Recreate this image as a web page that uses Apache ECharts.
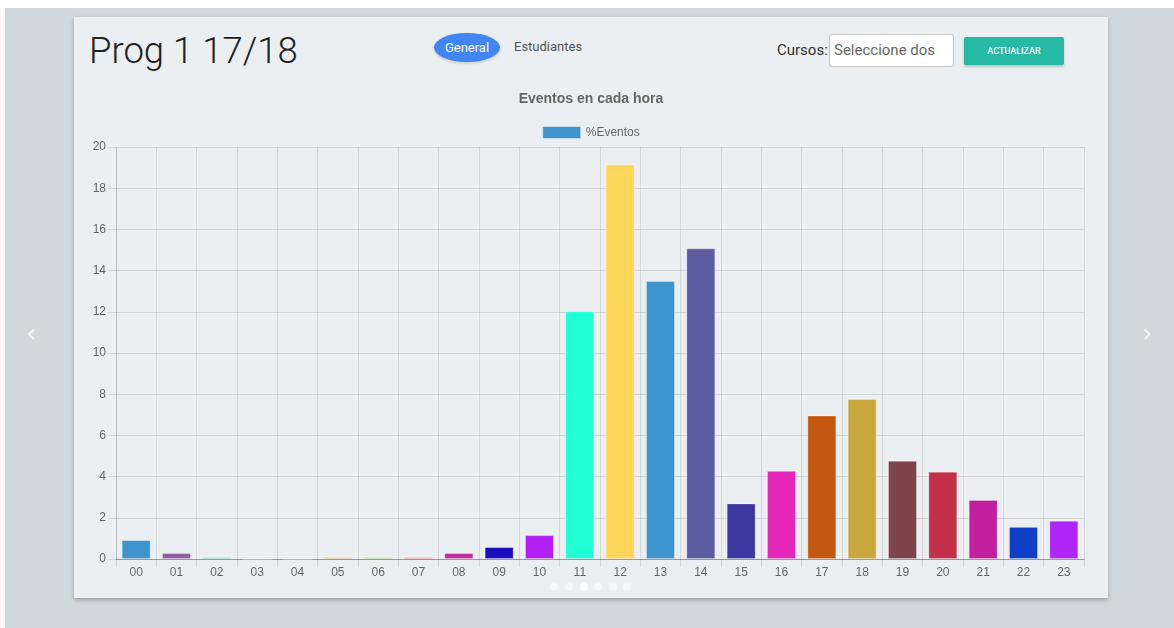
<!DOCTYPE html>
<html><head><meta charset="utf-8">
<script src="https://cdn.jsdelivr.net/npm/echarts@6/dist/echarts.min.js"></script>
<style>
html,body{margin:0;padding:0;width:1174px;height:628px;overflow:hidden;background:#fff;font-family:Roboto,"Liberation Sans",Arial,sans-serif;}
#bg{position:absolute;left:5px;top:8px;width:1169px;height:620px;background:#cfd8dc;}
#card{position:absolute;left:74px;top:17px;width:1034px;height:581px;background:#eceff1;box-shadow:0 2px 4px rgba(0,0,0,0.25);}
#h1{position:absolute;left:89px;top:29px;font-size:36.5px;font-weight:300;color:#222;white-space:nowrap;}
#pill{position:absolute;left:434px;top:33px;width:66px;height:29px;border-radius:50%;background:#4285f4;color:#fff;font-size:13px;line-height:29px;text-align:center;box-shadow:0 1px 3px rgba(0,0,0,0.2);}
#est{position:absolute;left:514px;top:39px;font-size:13px;color:#555;}
#cur{position:absolute;left:777px;top:41px;font-size:15px;color:#333;}
#inp{position:absolute;left:829px;top:34px;width:125px;height:33px;background:#fff;border:1px solid #c8c8c8;border-radius:3px;box-sizing:border-box;font-size:15px;color:#666;line-height:31px;padding-left:4px;}
#btn{position:absolute;left:964px;top:37px;width:100px;height:28px;background:#26b9a6;color:#fff;font-size:9px;font-weight:500;line-height:28px;text-align:center;box-shadow:0 2px 3px rgba(0,0,0,0.2);border-radius:2px;}
.arr{position:absolute;top:318px;font-size:26px;color:#f4f6f7;font-family:"DejaVu Sans",sans-serif;}
.dot{position:absolute;top:583px;width:8px;height:8px;border-radius:50%;background:rgba(255,255,255,0.5);}
#chart{position:absolute;left:74px;top:80px;width:1034px;height:518px;}
</style></head>
<body>
<div id="bg"></div>
<div id="card"></div>
<div id="h1">Prog 1 17/18</div>
<div id="pill">General</div>
<div id="est">Estudiantes</div>
<div id="cur">Cursos:</div>
<div id="inp">Seleccione dos</div>
<div id="btn">ACTUALIZAR</div>
<div class="arr" style="left:26px;">&#x2039;</div>
<div class="arr" style="left:1142px;">&#x203A;</div>
<div id="chart"></div>
<div class="dot" style="left:550px"></div>
<div class="dot" style="left:565px"></div>
<div class="dot" style="left:580px;background:#fff"></div>
<div class="dot" style="left:594px"></div>
<div class="dot" style="left:609px"></div>
<div class="dot" style="left:623px"></div>
<script>
const hours = ["00","01","02","03","04","05","06","07","08","09","10","11","12","13","14","15","16","17","18","19","20","21","22","23"];
const eventos = [0.92,0.29,0.08,0,0,0.08,0.08,0.08,0.29,0.58,1.16,12.03,19.15,13.5,15.08,2.7,4.28,6.97,7.77,4.77,4.24,2.87,1.56,1.86];
const barColors = ["#3e95cd","#8e5ea2","#3cba9f","#e8c3b9","#c45850","#d4a02c","#7cc245","#d43a4a","#c42aa0","#1a0bbf","#b11ff5","#1effd8","#ffd55a","#3e95cd","#5c5ca3","#3d37a0","#e626b8","#c45810","#c9a73d","#7f434b","#c4304b","#c21fa0","#113fc8","#b024f7"];
const yTicks = [0,2,4,6,8,10,12,14,16,18,20];
const seriesName = "%Eventos";
const chartTitle = "Eventos en cada hora";

const chart = echarts.init(document.getElementById('chart'), null, {renderer:'canvas'});
chart.setOption({
  animation:false,
  backgroundColor:'transparent',
  textStyle:{fontFamily:'"Liberation Sans", Arial, Helvetica, sans-serif'},
  title:{text:chartTitle,left:'center',top:12,padding:0,
    textStyle:{fontSize:14,fontWeight:'bold',color:'#666',fontFamily:'"Liberation Sans", Arial, sans-serif'}},
  legend:{top:46,left:'center',itemWidth:38,itemHeight:12,itemGap:6,icon:'rect',padding:0,
    data:[{name:seriesName,itemStyle:{color:'#3e95cd',borderColor:'rgba(255,255,255,0.5)',borderWidth:1}}],
    textStyle:{fontSize:12,color:'#666'}},
  grid:{left:42,right:24,top:67,bottom:39,outerBoundsMode:'none',containLabel:false},
  xAxis:{type:'category',data:hours,boundaryGap:true,
    axisLine:{lineStyle:{color:'#999',width:1}},
    axisTick:{show:true,length:8,alignWithLabel:false,lineStyle:{color:'rgba(0,0,0,0.1)'}},
    axisLabel:{color:'#666',fontSize:12,margin:8,interval:0},
    splitLine:{show:true,interval:0,lineStyle:{color:'rgba(0,0,0,0.1)'}}},
  yAxis:{type:'value',min:yTicks[0],max:yTicks[yTicks.length-1],interval:2,
    axisLine:{show:true,lineStyle:{color:'rgba(0,0,0,0.1)'}},
    axisTick:{show:true,length:8,lineStyle:{color:'rgba(0,0,0,0.1)'}},
    axisLabel:{color:'#666',fontSize:12,margin:10},
    splitLine:{show:true,lineStyle:{color:'rgba(0,0,0,0.1)'}}},
  series:[{name:seriesName,type:'bar',barWidth:29,
    data:eventos.map((v,i)=>({value:v,itemStyle:{color:barColors[i]}})),
    itemStyle:{borderColor:'rgba(255,255,255,0.3)',borderWidth:1}}]
});
</script>
</body></html>
